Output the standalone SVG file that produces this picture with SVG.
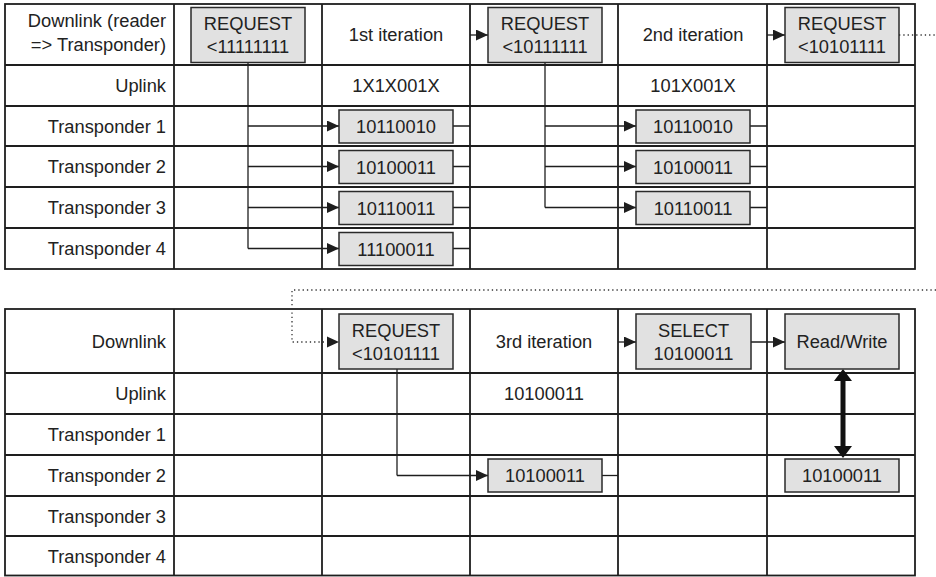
<svg xmlns="http://www.w3.org/2000/svg" width="936" height="577" viewBox="0 0 936 577">
<defs>
<style>
.grid{stroke:#1e1e1e;stroke-width:1.8;fill:none}
.box{fill:#e1e1e1;stroke:#2a2a2a;stroke-width:1.5}
.t{font-family:"Liberation Sans",Arial,sans-serif;font-size:18.3px;fill:#222}
.m{text-anchor:middle}
.r{text-anchor:end}
.c{stroke:#1e1e1e;stroke-width:1.3;fill:none}
.ca{stroke:#1e1e1e;stroke-width:1.3;fill:none;marker-end:url(#ah)}
.dot{stroke:#333;stroke-width:1.3;fill:none;stroke-dasharray:1.3 3}
</style>
<marker id="ah" markerUnits="userSpaceOnUse" markerWidth="12" markerHeight="11" viewBox="0 0 12 11" refX="12" refY="5.5" orient="auto">
<path d="M0,0 L12,5.5 L0,11 z" fill="#1e1e1e"/>
</marker>
</defs>
<rect width="936" height="577" fill="#fff"/>

<g id="table-top">
<rect class="grid" x="5" y="4" width="910" height="265"/>
<path class="grid" d="M5,65H915M5,106H915M5,146H915M5,187H915M5,228H915M174,4V269M322,4V269M470,4V269M618,4V269M767,4V269"/>
</g>
<g id="table-bottom">
<rect class="grid" x="5" y="309" width="910" height="266.5"/>
<path class="grid" d="M5,373H915M5,414H915M5,455H915M5,496H915M5,536H915M174,309V575.5M322,309V575.5M470,309V575.5M618,309V575.5M767,309V575.5"/>
</g>

<g id="labels-top">
<text class="t r" x="166" y="27">Downlink (reader</text>
<text class="t r" x="166" y="51">=&gt; Transponder)</text>
<text class="t r" x="166" y="92">Uplink</text>
<text class="t r" x="166" y="132.5">Transponder 1</text>
<text class="t r" x="166" y="173">Transponder 2</text>
<text class="t r" x="166" y="214">Transponder 3</text>
<text class="t r" x="166" y="255">Transponder 4</text>
<text class="t m" x="396" y="41">1st iteration</text>
<text class="t m" x="693" y="41">2nd iteration</text>
<text class="t m" x="396" y="92">1X1X001X</text>
<text class="t m" x="693" y="92">101X001X</text>
</g>
<g id="labels-bottom">
<text class="t r" x="166" y="348">Downlink</text>
<text class="t r" x="166" y="400">Uplink</text>
<text class="t r" x="166" y="441">Transponder 1</text>
<text class="t r" x="166" y="482">Transponder 2</text>
<text class="t r" x="166" y="522.5">Transponder 3</text>
<text class="t r" x="166" y="562.5">Transponder 4</text>
<text class="t m" x="544" y="348">3rd iteration</text>
<text class="t m" x="544" y="400">10100011</text>
</g>

<g id="connectors">
<path class="c" d="M248,62V248.5"/>
<path class="ca" d="M248,126H339"/>
<path class="ca" d="M248,166.5H339"/>
<path class="ca" d="M248,207.5H339"/>
<path class="ca" d="M248,248.5H339"/>
<path class="c" d="M453,126H470M453,166.5H470M453,207.5H470M453,248.5H470"/>
<path class="ca" d="M470,35H488"/>
<path class="c" d="M545,62V207.5"/>
<path class="ca" d="M545,126H636"/>
<path class="ca" d="M545,166.5H636"/>
<path class="ca" d="M545,207.5H636"/>
<path class="c" d="M750,126H767M750,166.5H767M750,207.5H767"/>
<path class="ca" d="M767,35H785"/>
<path class="dot" d="M899,35H936"/>
<path class="dot" d="M936,290H292V342H327"/>
<path d="M327,336.5L339,342L327,347.5z" fill="#1e1e1e"/>
<path class="c" d="M397,369V475.5"/>
<path class="ca" d="M397,475.5H488"/>
<path class="c" d="M602,475.5H618"/>
<path class="ca" d="M618,342H636"/>
<path class="ca" d="M751,342H785"/>
<path d="M840.5,380V447H845.5V380z" fill="#111"/>
<path d="M834,381L843,369L852,381z" fill="#111"/>
<path d="M834,446L843,458L852,446z" fill="#111"/>
</g>

<g id="req1"><rect class="box" x="191" y="7.5" width="114" height="55"/><text class="t m" x="248" y="30">REQUEST</text><text class="t m" x="248" y="53">&lt;11111111</text></g>
<g id="t1-it1"><rect class="box" x="339" y="110" width="114" height="33"/><text class="t m" x="396" y="133">10110010</text></g>
<g id="t2-it1"><rect class="box" x="339" y="150.5" width="114" height="33"/><text class="t m" x="396" y="173.5">10100011</text></g>
<g id="t3-it1"><rect class="box" x="339" y="191.5" width="114" height="33"/><text class="t m" x="396" y="214.5">10110011</text></g>
<g id="t4-it1"><rect class="box" x="339" y="232.5" width="114" height="33"/><text class="t m" x="396" y="255.5">11100011</text></g>
<g id="req2"><rect class="box" x="488" y="7.5" width="114" height="55"/><text class="t m" x="545" y="30">REQUEST</text><text class="t m" x="545" y="53">&lt;10111111</text></g>
<g id="t1-it2"><rect class="box" x="636" y="110" width="114" height="33"/><text class="t m" x="693" y="133">10110010</text></g>
<g id="t2-it2"><rect class="box" x="636" y="150.5" width="114" height="33"/><text class="t m" x="693" y="173.5">10100011</text></g>
<g id="t3-it2"><rect class="box" x="636" y="191.5" width="114" height="33"/><text class="t m" x="693" y="214.5">10110011</text></g>
<g id="req3"><rect class="box" x="785" y="7.5" width="114" height="55"/><text class="t m" x="842" y="30">REQUEST</text><text class="t m" x="842" y="53">&lt;10101111</text></g>
<g id="req3b"><rect class="box" x="339" y="314" width="114" height="55"/><text class="t m" x="396" y="336.5">REQUEST</text><text class="t m" x="396" y="359.5">&lt;10101111</text></g>
<g id="t2-it3"><rect class="box" x="488" y="459" width="114" height="33"/><text class="t m" x="545" y="482">10100011</text></g>
<g id="select"><rect class="box" x="636" y="314" width="115" height="55"/><text class="t m" x="693.5" y="336.5">SELECT</text><text class="t m" x="693.5" y="359.5">10100011</text></g>
<g id="readwrite"><rect class="box" x="785" y="314" width="114" height="55"/><text class="t m" x="842" y="348">Read/Write</text></g>
<g id="t2-rw"><rect class="box" x="785" y="459" width="114" height="33"/><text class="t m" x="842" y="482">10100011</text></g>
</svg>
